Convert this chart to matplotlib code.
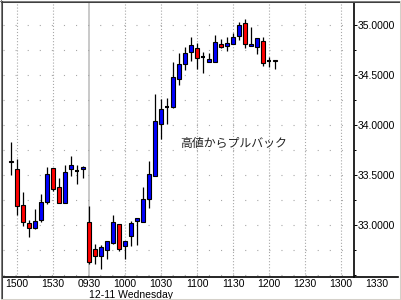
import numpy as np
import matplotlib
matplotlib.use("Agg")
import matplotlib.pyplot as plt
from matplotlib.lines import Line2D
from matplotlib.ticker import FixedLocator, MultipleLocator, FormatStrFormatter

plt.rcParams['font.family'] = ['Liberation Sans', 'DejaVu Sans']
plt.rcParams['lines.scale_dashes'] = False

# ======== data: 5-minute bars (previous day close + 12-11 session) ========
times = ["1455", "1500", "1505", "1510", "1515", "1520", "1525", "1530", "1535",
         "1540", "1545", "1550", "1555",
         "0930", "0935", "0940", "0945", "0950", "0955", "1000", "1005", "1010",
         "1015", "1020", "1025", "1030", "1035", "1040", "1045", "1050", "1055",
         "1100", "1105", "1110", "1115", "1120", "1125", "1130", "1135", "1140",
         "1145", "1150", "1155", "1200", "1205"]
opens = [33.64, 33.56, 33.20, 33.02, 32.97, 33.05, 33.23, 33.57, 33.38, 33.22, 33.56, 33.54, 33.555,
         33.03, 32.76, 32.69, 32.75, 32.82, 33.01, 32.79, 32.89, 33.04, 33.03, 33.26, 33.49,
         34.01, 34.18, 34.18, 34.46, 34.61, 34.73, 34.77, 34.68, 34.635, 34.63, 34.81, 34.79,
         34.81, 34.89, 35.02, 34.79, 34.78, 34.84, 34.64, 34.645]
highs = [33.83, 33.66, 33.33, 33.05, 33.16, 33.31, 33.58, 33.57, 33.47, 33.60, 33.69, 33.60, 33.59,
         33.19, 32.81, 32.80, 32.84, 33.10, 33.01, 32.84, 33.04, 33.07, 33.38, 33.64, 34.31,
         34.26, 34.27, 34.63, 34.72, 34.78, 34.88, 34.82, 34.73, 34.72, 34.90, 34.86, 34.88,
         34.92, 35.03, 35.06, 34.98, 34.87, 34.88, 34.68, 34.645]
lows = [33.50, 33.10, 32.99, 32.88, 32.96, 33.03, 33.21, 33.34, 33.22, 33.22, 33.49, 33.41, 33.47,
        32.61, 32.61, 32.56, 32.66, 32.81, 32.74, 32.66, 32.79, 32.80, 33.03, 33.17, 33.49,
        33.86, 34.01, 34.17, 34.40, 34.55, 34.64, 34.56, 34.52, 34.635, 34.63, 34.77, 34.74,
        34.81, 34.85, 34.77, 34.79, 34.71, 34.59, 34.58, 34.56]
closes = [33.63, 33.19, 33.03, 32.97, 33.04, 33.23, 33.51, 33.36, 33.22, 33.53, 33.60, 33.54, 33.575,
          32.63, 32.69, 32.78, 32.84, 33.03, 32.76, 32.84, 33.02, 33.07, 33.26, 33.51, 34.04,
          34.16, 34.18, 34.48, 34.61, 34.72, 34.80, 34.67, 34.68, 34.655, 34.83, 34.785, 34.82,
          34.88, 35.00, 34.81, 34.81, 34.87, 34.62, 34.64, 34.64]

# time-axis labels (half-hour marks, the last ones are empty future slots)
tick_labels = ["1500", "1530", "0930", "1000", "1030", "1100", "1130", "1200", "1230", "1300", "1330"]
price_ticks = [33.0, 33.5, 34.0, 34.5, 35.0]
session_label = "12-11 Wednesday"
note_text = "高値からプルバック"

# ======== figure ========
W, H = 401, 300
fig = plt.figure(figsize=(W / 100, H / 100), dpi=100)
ax = fig.add_axes([3 / W, 23 / H, (354 - 3) / W, (277 - 3) / H])

o = np.array(opens); h = np.array(highs); l = np.array(lows); c = np.array(closes)
x = np.arange(len(o))
bars_per_30 = 6
first_tick = times.index("1500")
tick_pos = first_tick + bars_per_30 * np.arange(len(tick_labels))
day_break = times.index("0930")

# grid
for tp in tick_pos:
    if tp == day_break:
        ax.axvline(tp, color="#c0c0c0", lw=1.2, zorder=0)
    else:
        ax.axvline(tp, color="#a8a8a8", lw=0.8, ls=(0, (0.8, 1.4)), zorder=0)
for gy in np.arange(32.5, 35.01, 0.25):
    ax.axhline(gy, color="#a8a8a8", lw=0.8, ls=(0, (0.8, 7.9)), zorder=0)

# candles
up = c > o
down = c < o
flat = c == o
ax.vlines(x, l, h, color="black", lw=0.9, zorder=2)
ax.bar(x[up], (c - o)[up], bottom=o[up], width=0.72, color="#0000ff",
       edgecolor="black", linewidth=0.8, zorder=3)
ax.bar(x[down], (c - o)[down], bottom=o[down], width=0.72, color="#ff0000",
       edgecolor="black", linewidth=0.8, zorder=3)
ax.hlines(o[flat], x[flat] - 0.4, x[flat] + 0.4, color="black", lw=1.5, zorder=3)

ax.set_xlim(-4 / 3, 343 / 6)
ax.set_ylim(32.48, 35.22)

# axes styling
for s in ["left", "top", "bottom"]:
    ax.spines[s].set_visible(False)
ax.spines["right"].set_color("black")
ax.spines["right"].set_linewidth(1.2)

ax.yaxis.tick_right()
ax.yaxis.set_major_locator(FixedLocator(price_ticks))
ax.yaxis.set_minor_locator(MultipleLocator(0.25))
ax.yaxis.set_major_formatter(FormatStrFormatter("%.4f"))
ax.tick_params(axis="y", which="major", length=2.4, width=0.7, pad=0.5, labelsize=7.5)
ax.tick_params(axis="y", which="minor", length=1.6, width=0.7)

vis = tick_pos <= ax.get_xlim()[1]
ax.set_xticks(tick_pos[vis])
ax.set_xticklabels(np.array(tick_labels)[vis])
ax.tick_params(axis="x", length=0, pad=1.6, labelsize=7.5)
for tp, lab in zip(tick_pos[~vis], np.array(tick_labels)[~vis]):
    ax.annotate(lab, xy=(tp, 0), xycoords=("data", "axes fraction"),
                xytext=(0, -1.6), textcoords="offset points",
                ha="center", va="top", fontsize=7.5, annotation_clip=False)

ax.annotate(session_label, xy=(day_break, 0), xycoords=("data", "axes fraction"),
            xytext=(0.3, -9.6), textcoords="offset points",
            ha="left", va="top", fontsize=7.5, annotation_clip=False)

ax.text(28.2, 33.82, note_text, fontsize=8.6, color="#222222",
        family=["Noto Sans CJK JP", "DejaVu Sans"], ha="left", va="center")

# bottom axis line across whole width
fig.add_artist(Line2D([3 / W, 398 / W], [23.5 / H, 23.5 / H], transform=fig.transFigure,
                      color="black", lw=1.2))

# sunken window border
def px_line(x0, y0, x1, y1, col):
    fig.add_artist(Line2D([x0 / W, x1 / W], [1 - y0 / H, 1 - y1 / H],
                          transform=fig.transFigure, color=col, lw=0.75))

px_line(0.5, 0, 0.5, 300, "#808080")
px_line(0, 0.5, 401, 0.5, "#808080")
px_line(1.5, 1, 1.5, 299, "#404040")
px_line(1, 1.5, 400, 1.5, "#404040")
px_line(399.5, 1, 399.5, 300, "#d4d0c8")
px_line(1, 298.5, 400, 298.5, "#d4d0c8")
px_line(400.5, 0, 400.5, 300, "#ffffff")
px_line(0, 299.5, 401, 299.5, "#ffffff")

fig.savefig("out.png", dpi=100)
